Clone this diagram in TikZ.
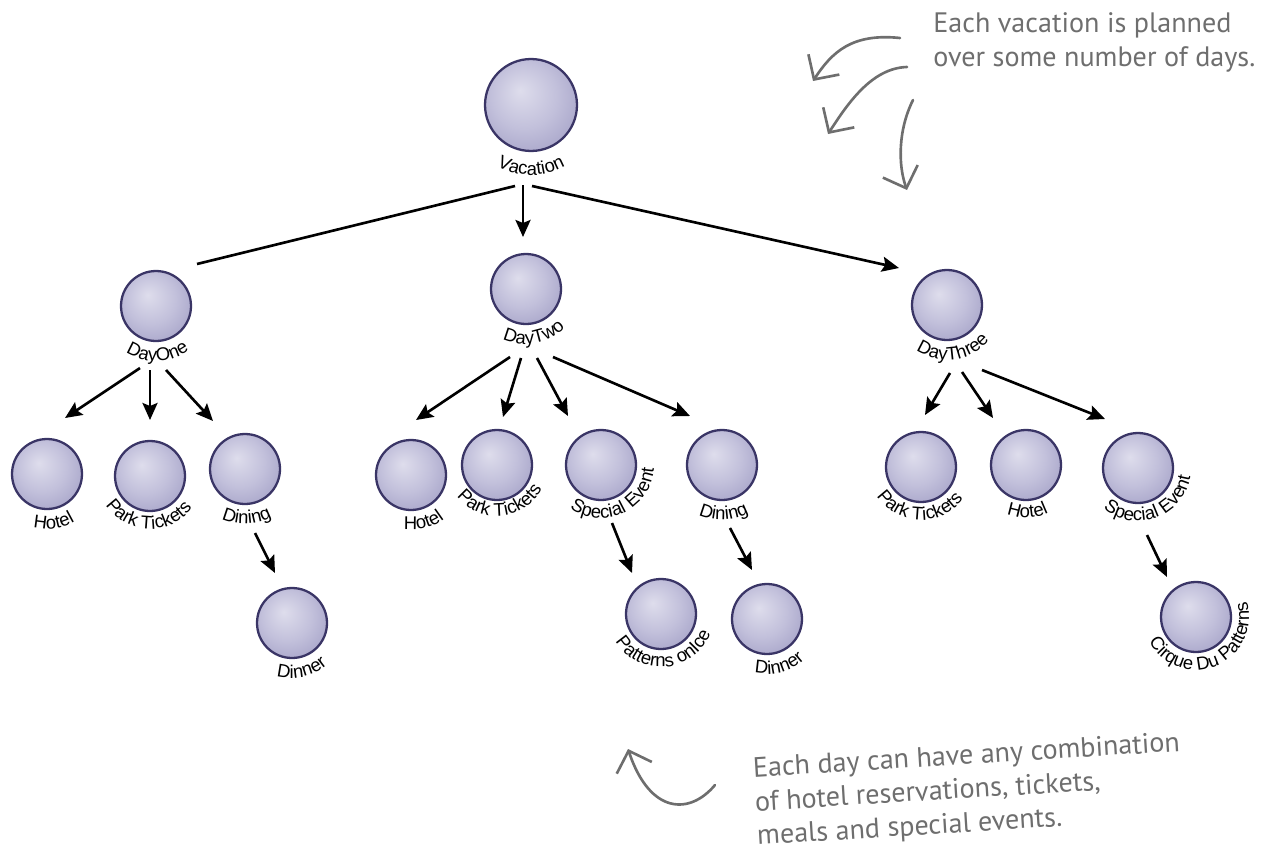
\documentclass[tikz,border=0pt]{standalone}
\usepackage{fontspec}
\setmainfont{Liberation Sans}
\newfontfamily\notefont{PT Sans}
\usetikzlibrary{arrows.meta,decorations.text,calc}
\definecolor{lavhi}{HTML}{DEDDEC}
\definecolor{lavmid}{HTML}{C2C0DB}
\definecolor{lavout}{HTML}{A09DC4}
\definecolor{lavedge}{HTML}{625D90}
\definecolor{ringc}{HTML}{3A3566}
\definecolor{notegray}{HTML}{6E6E6E}
\pgfdeclareradialshading{orbshade}{\pgfpoint{-6bp}{8bp}}{color(0bp)=(lavhi); color(18bp)=(lavmid); color(36bp)=(lavout); color(47bp)=(lavedge); color(50bp)=(lavedge)}
\newcommand\lblfont{\fontsize{10.5}{12}\selectfont}
\newcommand\orblabel[4]{%
  \pgfmathsetlengthmacro\olR{#3*0.02cm}%
  \pgfmathsetmacro\olS{#4-85}\pgfmathsetmacro\olE{#4+85}%
  \path[decorate, decoration={text along path, text={|\lblfont|#2}, text align=center}]
    ($(#1)+(\olS:\olR)$) arc[start angle=\olS, end angle=\olE, radius=\olR];}
\begin{document}
\begin{tikzpicture}[x=0.02cm, y=0.02cm,
  orb/.style={circle, inner sep=0, minimum size=1.4cm, shade, shading=orbshade, draw=ringc, line width=1.3pt},
  conn/.style={line width=1.5pt, black, -{Stealth[length=0.34cm, width=0.3cm, inset=0.06cm]}},
  plainconn/.style={line width=1.5pt, black},
  note/.style={draw=notegray, line width=1.5pt, line cap=round, -{Straight Barb[length=0.36cm, width=0.74cm, line width=1.5pt]}},
  notetext/.style={font=\notefont\fontsize{16}{19.3}\selectfont, text=notegray, align=left, inner sep=0}]
\useasboundingbox (0,0) rectangle (1268,-862);

% nodes
\node[orb, minimum size=1.84cm] (vac) at (531,-105) {};
\node[orb] (d1) at (156,-306) {};
\node[orb] (d2) at (526,-289) {};
\node[orb] (d3) at (947,-305) {};
\node[orb] (h1) at (47,-474) {};
\node[orb] (p1) at (150,-476) {};
\node[orb] (g1) at (245,-469) {};
\node[orb] (n1) at (292,-623) {};
\node[orb] (h2) at (411,-475) {};
\node[orb] (p2) at (497,-465) {};
\node[orb] (s2) at (601,-465) {};
\node[orb] (g2) at (722,-465) {};
\node[orb] (poi) at (661,-614) {};
\node[orb] (n2) at (767,-619) {};
\node[orb] (p3) at (921,-467) {};
\node[orb] (h3) at (1026,-465) {};
\node[orb] (s3) at (1138,-468) {};
\node[orb] (c3) at (1196,-617) {};

% curved labels
\orblabel{vac}{Vacation}{70}{270}
\orblabel{d1}{DayOne}{55}{272}
\orblabel{d2}{DayTwo}{55}{280}
\orblabel{d3}{DayThree}{55}{278}
\orblabel{h1}{Hotel}{55}{278}
\orblabel{p1}{Park Tickets}{53}{268}
\orblabel{g1}{Dining}{55}{272}
\orblabel{n1}{Dinner}{55}{282}
\orblabel{h2}{Hotel}{55}{285}
\orblabel{p2}{Park Tickets}{51}{275}
\orblabel{s2}{Special Event}{53}{295}
\orblabel{g2}{Dining}{55}{272}
\orblabel{poi}{Patterns onIce}{53}{275}
\orblabel{n2}{Dinner}{55}{285}
\orblabel{p3}{Park Tickets}{53}{268}
\orblabel{h3}{Hotel}{53}{272}
\orblabel{s3}{Special Event}{53}{290}
\orblabel{c3}{Cirque Du Patterns}{53}{292}

% connector end points
\coordinate (vac-o1) at (515,-186); \coordinate (d1-i) at (197,-264);
\coordinate (vac-o2) at (523,-185); \coordinate (d2-i) at (523,-237);
\coordinate (vac-o3) at (532,-186); \coordinate (d3-i) at (899,-268);
\coordinate (d1-o1) at (140,-368); \coordinate (h1-i) at (65,-418);
\coordinate (d1-o2) at (150,-370); \coordinate (p1-i) at (150,-420);
\coordinate (d1-o3) at (166,-370); \coordinate (g1-i) at (213,-421);
\coordinate (g1-o) at (255,-533); \coordinate (n1-i) at (275,-573);
\coordinate (d2-o1) at (510,-357); \coordinate (h2-i) at (416,-420);
\coordinate (d2-o2) at (521,-358); \coordinate (p2-i) at (503,-417);
\coordinate (d2-o3) at (537,-358); \coordinate (s2-i) at (568,-416);
\coordinate (d2-o4) at (553,-357); \coordinate (g2-i) at (690,-416);
\coordinate (s2-o) at (612,-523); \coordinate (poi-i) at (632,-573);
\coordinate (g2-o) at (730,-528); \coordinate (n2-i) at (752,-570);
\coordinate (d3-o1) at (950,-373); \coordinate (p3-i) at (925,-415);
\coordinate (d3-o2) at (962,-372); \coordinate (h3-i) at (993,-418);
\coordinate (d3-o3) at (982,-370); \coordinate (s3-i) at (1105,-419);
\coordinate (s3-o) at (1147,-535); \coordinate (c3-i) at (1167,-577);

% connectors
\draw[plainconn] (vac-o1) -- (d1-i);
\draw[conn] (vac-o2) -- (d2-i);
\draw[conn] (vac-o3) -- (d3-i);
\draw[conn] (d1-o1) -- (h1-i);
\draw[conn] (d1-o2) -- (p1-i);
\draw[conn] (d1-o3) -- (g1-i);
\draw[conn] (g1-o) -- (n1-i);
\draw[conn] (d2-o1) -- (h2-i);
\draw[conn] (d2-o2) -- (p2-i);
\draw[conn] (d2-o3) -- (s2-i);
\draw[conn] (d2-o4) -- (g2-i);
\draw[conn] (s2-o) -- (poi-i);
\draw[conn] (g2-o) -- (n2-i);
\draw[conn] (d3-o1) -- (p3-i);
\draw[conn] (d3-o2) -- (h3-i);
\draw[conn] (d3-o3) -- (s3-i);
\draw[conn] (s3-o) -- (c3-i);

% annotations
\node[notetext, anchor=north west] (note1) at (933,-12) {Each vacation is planned\\over some number of days.};
\node[notetext, anchor=north west, rotate=3.5] (note2) at (752,-757) {Each day can have any combination\\of hotel reservations, tickets,\\meals and special events.};

\coordinate (na1) at (900,-38); \coordinate (na1t) at (813,-81);
\coordinate (na2) at (907,-67); \coordinate (na2t) at (828,-134);
\coordinate (na3) at (913,-100); \coordinate (na3t) at (907,-190);
\coordinate (nb) at (715,-785); \coordinate (nbt) at (628,-749);
\draw[note] (na1) .. controls (852,-33) and (832,-52) .. (na1t);
\draw[note] (na2) .. controls (872,-68) and (848,-103) .. (na2t);
\draw[note] (na3) .. controls (898,-130) and (898,-165) .. (na3t);
\draw[note] (nb) .. controls (690,-815) and (650,-815) .. (nbt);
\end{tikzpicture}
\end{document}
